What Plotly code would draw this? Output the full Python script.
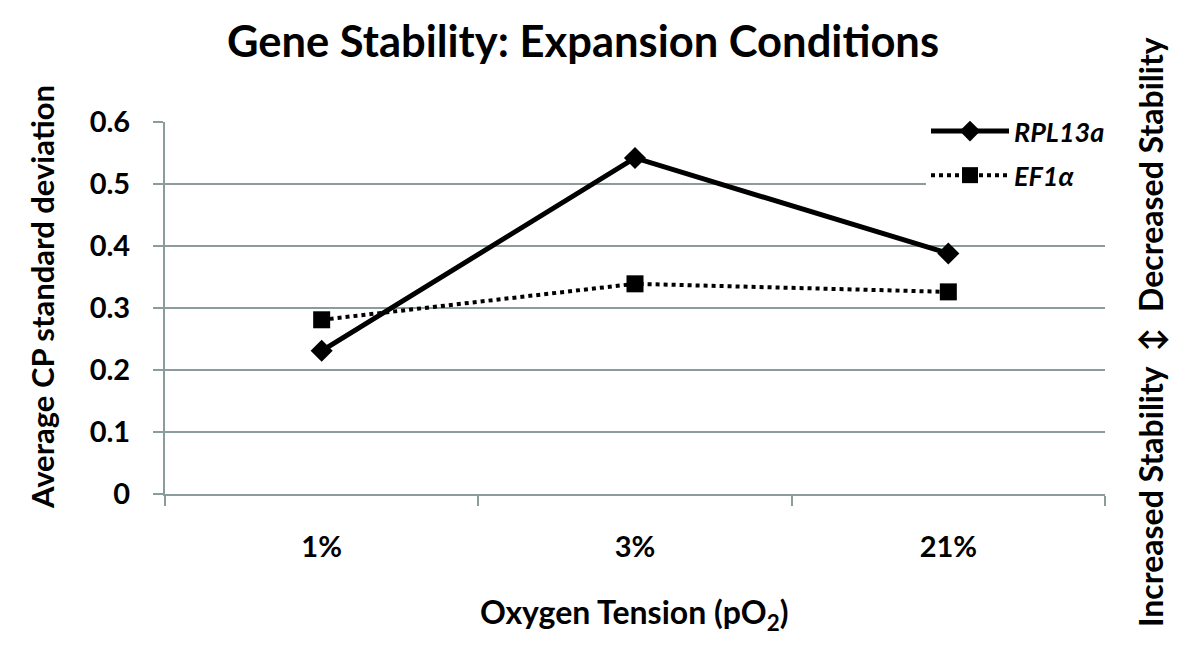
import plotly.graph_objects as go

categories = ["1%", "3%", "21%"]
rpl13a = [0.231, 0.542, 0.388]
ef1a = [0.281, 0.339, 0.326]
y_ticks = [0, 0.1, 0.2, 0.3, 0.4, 0.5, 0.6]
y_tick_labels = ["0", "0.1", "0.2", "0.3", "0.4", "0.5", "0.6"]

FONT = "Lato"
GRID = "#8c9c9c"

# page has an 8px body margin; figure is sized/positioned to compensate
W, H = 1192, 658
L, R, T, B = 157, 95, 114, 172
PW, PH = W - L - R, H - T - B


def px_to_paper(px, py):
    # page pixel -> paper coords
    fx, fy = px - 8, py - 8
    return (fx - L) / PW, (H - B - fy) / PH


fig = go.Figure()
fig.add_trace(go.Scatter(
    x=categories, y=rpl13a, name="RPL13a", legendgroup="a", mode="lines+markers",
    line=dict(color="black", width=5),
    marker=dict(symbol="diamond", size=17, color="black"),
))
fig.add_trace(go.Scatter(
    x=categories, y=ef1a, name="EF1α", legendgroup="b", mode="lines+markers",
    line=dict(color="black", width=4, dash="dot"),
    marker=dict(symbol="square", size=17, color="black"),
))

lx, ly = px_to_paper(1110, 107)
fig.update_layout(
    width=W, height=H,
    margin=dict(l=L, r=R, t=T, b=B, autoexpand=False),
    paper_bgcolor="white", plot_bgcolor="white",
    font=dict(family=FONT, color="black"),
    title=dict(text="<b>Gene Stability: Expansion Conditions</b>",
               xref="container", yref="container",
               x=(583 - 8) / W, xanchor="center", y=1 - (42 - 8) / H, yanchor="middle",
               font=dict(size=43.5, family=FONT, color="black")),
    showlegend=True,
    legend=dict(x=lx, xanchor="right", y=ly, yanchor="top",
                bgcolor="white", borderwidth=0,
                font=dict(size=27, family=FONT, weight="bold", style="italic"),
                itemwidth=78, tracegroupgap=6),
    xaxis=dict(
        type="category", categoryorder="array", categoryarray=categories,
        range=[-0.5, 2.5],
        showgrid=False, showline=True, linecolor=GRID, linewidth=2,
        ticks="outside", tickson="boundaries", ticklen=10, tickcolor=GRID, tickwidth=2,
        tickfont=dict(size=29, family=FONT, weight="bold"),
        ticklabelstandoff=26,
        zeroline=False, automargin=False,
    ),
    yaxis=dict(
        range=[0, 0.6], tickvals=y_ticks, ticktext=y_tick_labels,
        showgrid=True, gridcolor=GRID, gridwidth=2,
        showline=True, linecolor=GRID, linewidth=2,
        ticks="outside", ticklen=10, tickcolor=GRID, tickwidth=2,
        tickfont=dict(size=29, family=FONT, weight="bold"),
        ticklabelstandoff=17,
        zeroline=False, automargin=False,
    ),
)

ax, ay = px_to_paper(42, 297)
fig.add_annotation(x=ax, y=ay, xref="paper", yref="paper",
                   text="<b>Average CP standard deviation</b>", textangle=-90,
                   showarrow=False, xanchor="center", yanchor="middle",
                   font=dict(size=31, family=FONT, color="black"))

ax, ay = px_to_paper(634, 614)
fig.add_annotation(x=ax, y=ay, xref="paper", yref="paper",
                   text="<b>Oxygen Tension (pO<sub>2</sub>)</b>",
                   showarrow=False, xanchor="center", yanchor="middle",
                   font=dict(size=32, family=FONT, color="black"))

ax, ay = px_to_paper(1150, 332)
fig.add_annotation(x=ax, y=ay, xref="paper", yref="paper",
                   text="<b>Increased Stability  \u2195  Decreased Stability</b>",
                   textangle=-90, showarrow=False, xanchor="center", yanchor="middle",
                   font=dict(size=32, family=FONT, color="black"))

fig.write_html("out.html")
